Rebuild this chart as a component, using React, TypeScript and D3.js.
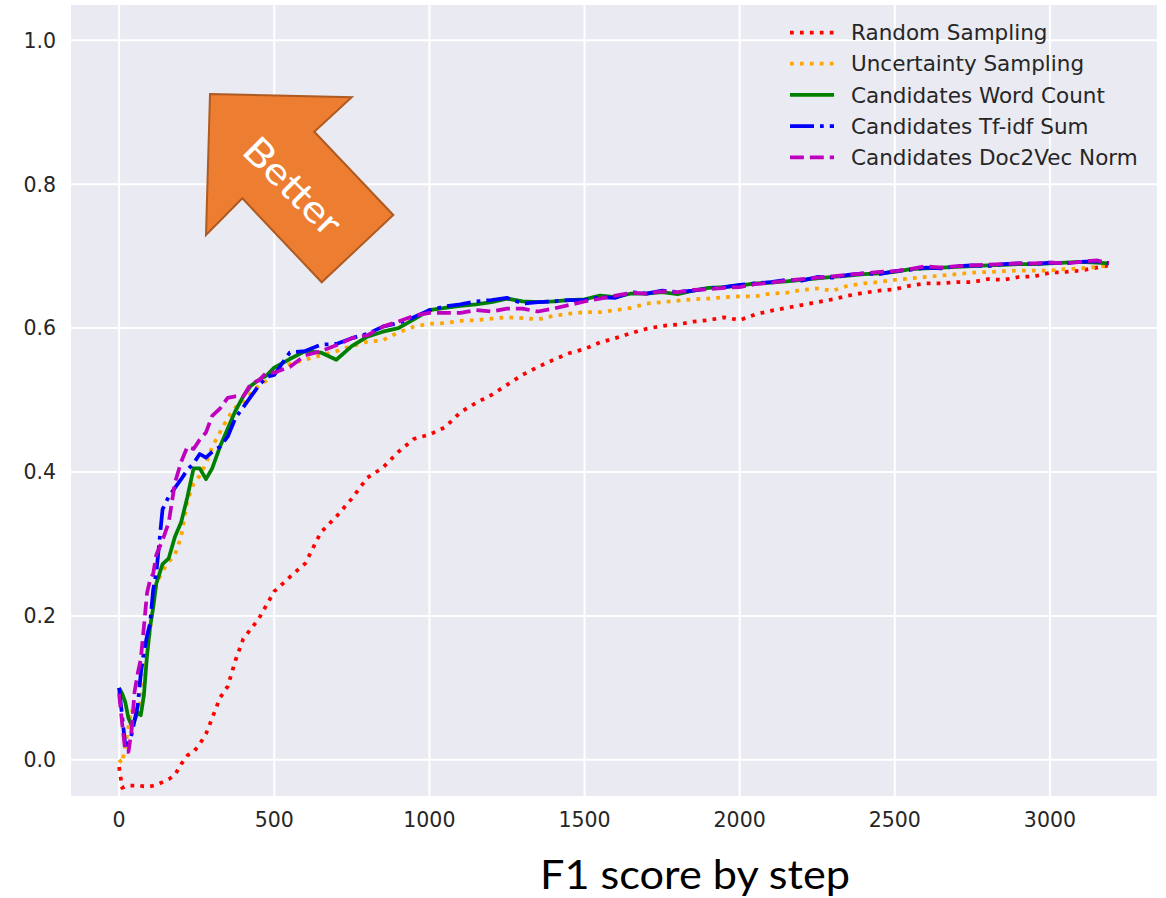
import React from "react";
import * as d3 from "d3";

// Training steps shared by every curve
const steps = [
  0, 10, 20, 30, 40, 50, 60, 70, 80, 90, 100, 110, 120,
  140, 160, 180, 200, 220, 240, 260, 280, 300,
  325, 350, 375, 400, 425, 450, 475, 500,
  550, 600, 650, 700, 750, 800, 850, 900, 950, 1000,
  1050, 1100, 1150, 1200, 1250, 1300, 1350, 1400, 1450, 1500,
  1550, 1600, 1650, 1700, 1750, 1800, 1850, 1900, 1950, 2000,
  2050, 2100, 2150, 2200, 2250, 2300, 2350, 2400, 2450, 2500,
  2550, 2600, 2650, 2700, 2750, 2800, 2850, 2900, 2950, 3000,
  3050, 3100, 3150, 3190,
];

const randomSampling = [
  -0.01, -0.039, -0.037, -0.036, -0.036, -0.036, -0.035, -0.036, -0.037, -0.037, -0.037, -0.036, -0.035,
  -0.031, -0.027, -0.021, -0.006, 0.006, 0.011, 0.022, 0.036, 0.058,
  0.086, 0.102, 0.138, 0.168, 0.182, 0.196, 0.215, 0.234,
  0.254, 0.273, 0.316, 0.338, 0.363, 0.392, 0.406, 0.428, 0.446, 0.452,
  0.462, 0.483, 0.496, 0.507, 0.521, 0.535, 0.546, 0.556, 0.565, 0.571,
  0.58, 0.586, 0.593, 0.599, 0.603, 0.605, 0.609, 0.611, 0.615, 0.611,
  0.619, 0.624, 0.628, 0.632, 0.636, 0.64, 0.645, 0.649, 0.652, 0.654,
  0.659, 0.662, 0.662, 0.664, 0.664, 0.668, 0.667, 0.671, 0.672, 0.677,
  0.678, 0.68, 0.684, 0.687,
];

const uncertaintySampling = [
  0.0, -0.005, 0.02, 0.045, 0.07, 0.06, 0.075, 0.08, 0.11, 0.15, 0.18, 0.22, 0.245,
  0.262, 0.275, 0.285, 0.31, 0.36, 0.384, 0.395, 0.412, 0.435,
  0.455, 0.475, 0.49, 0.495, 0.51, 0.52, 0.527, 0.537,
  0.55, 0.556, 0.562, 0.568, 0.575, 0.581, 0.583, 0.594, 0.602, 0.606,
  0.607, 0.61, 0.611, 0.613, 0.615, 0.614, 0.612, 0.617, 0.62, 0.622,
  0.622, 0.625, 0.628, 0.634, 0.636, 0.638, 0.64, 0.641, 0.643, 0.644,
  0.644, 0.648, 0.649, 0.653, 0.655, 0.652, 0.659, 0.662, 0.664, 0.667,
  0.669, 0.671, 0.673, 0.675, 0.677, 0.678, 0.679, 0.68, 0.68, 0.68,
  0.682, 0.683, 0.685, 0.687,
];

const wordCount = [
  0.1, 0.092, 0.08, 0.058, 0.048, 0.055, 0.066, 0.062, 0.09, 0.145, 0.185, 0.212, 0.245,
  0.272, 0.28, 0.31, 0.33, 0.365, 0.405, 0.405, 0.39, 0.405,
  0.435, 0.46, 0.485, 0.505, 0.52, 0.528, 0.534, 0.545,
  0.557, 0.568, 0.566, 0.556, 0.575, 0.588, 0.595, 0.6, 0.612, 0.625,
  0.628, 0.631, 0.633, 0.636, 0.641, 0.637, 0.636, 0.637, 0.639, 0.64,
  0.645, 0.643, 0.648, 0.648, 0.65, 0.647, 0.652, 0.656, 0.657, 0.659,
  0.662, 0.663, 0.665, 0.667, 0.669, 0.671, 0.673, 0.675, 0.676, 0.678,
  0.682, 0.683, 0.684, 0.685, 0.686, 0.687, 0.688, 0.689, 0.689, 0.69,
  0.691, 0.692, 0.691, 0.69,
];

const tfidfSum = [
  0.1, 0.06, 0.02, 0.022, 0.035, 0.055, 0.075, 0.12, 0.15, 0.172, 0.19, 0.237, 0.26,
  0.348, 0.366, 0.378, 0.39, 0.403, 0.412, 0.425, 0.42, 0.428,
  0.435, 0.449, 0.475, 0.49, 0.505, 0.52, 0.532, 0.535,
  0.566, 0.568, 0.577, 0.578, 0.586, 0.592, 0.602, 0.607, 0.615, 0.625,
  0.63, 0.633, 0.637, 0.639, 0.642, 0.634, 0.636, 0.637, 0.639, 0.639,
  0.643, 0.642, 0.65, 0.648, 0.652, 0.65, 0.652, 0.655, 0.657, 0.66,
  0.662, 0.664, 0.667, 0.666, 0.671, 0.67, 0.674, 0.676, 0.675, 0.679,
  0.681, 0.684, 0.683, 0.686, 0.687, 0.686, 0.689, 0.69, 0.689, 0.691,
  0.69, 0.692, 0.693, 0.69,
];

const doc2vecNorm = [
  0.092, 0.05, 0.012, 0.011, 0.04, 0.095, 0.12, 0.14, 0.185, 0.232, 0.25, 0.259, 0.285,
  0.305, 0.33, 0.385, 0.414, 0.435, 0.432, 0.445, 0.455, 0.478,
  0.488, 0.503, 0.505, 0.505, 0.523, 0.527, 0.538, 0.538,
  0.546, 0.562, 0.568, 0.576, 0.586, 0.59, 0.602, 0.609, 0.617, 0.621,
  0.621, 0.621, 0.625, 0.623, 0.627, 0.627, 0.623, 0.627, 0.632, 0.637,
  0.641, 0.645, 0.649, 0.648, 0.651, 0.65, 0.653, 0.654, 0.656, 0.657,
  0.661, 0.663, 0.666, 0.668, 0.67, 0.672, 0.674, 0.676, 0.678, 0.679,
  0.682, 0.686, 0.684, 0.686, 0.687, 0.688, 0.689, 0.69, 0.69, 0.691,
  0.69, 0.692, 0.694, 0.69,
];

const seriesNames = [
  "Random Sampling",
  "Uncertainty Sampling",
  "Candidates Word Count",
  "Candidates Tf-idf Sum",
  "Candidates Doc2Vec Norm",
];
const seriesValues = [randomSampling, uncertaintySampling, wordCount, tfidfSum, doc2vecNorm];
const seriesColors = ["#ff0000", "#ffa500", "#008000", "#0000ff", "#bf00bf"];

const LW = 3.75;
// matplotlib-style dash patterns scaled by line width
const seriesDash = [
  `${LW} ${LW * 1.65}`,
  `${LW} ${LW * 1.65}`,
  "none",
  `${LW * 6.4} ${LW * 1.6} ${LW} ${LW * 1.6}`,
  `${LW * 3.7} ${LW * 1.6}`,
];

const xTicks = [0, 500, 1000, 1500, 2000, 2500, 3000];
const yTicks = [0.0, 0.2, 0.4, 0.6, 0.8, 1.0];

const W = 1166;
const H = 898;
const plot = { left: 71, right: 1157, top: 5, bottom: 796 };

export default function App() {
  const x = d3.scaleLinear().domain([-155, 3345]).range([plot.left, plot.right]);
  const y = d3.scaleLinear().domain([-0.0503, 1.049]).range([plot.bottom, plot.top]);

  const line = (vals: number[]) =>
    d3
      .line<number>()
      .x((_, i) => x(steps[i]))
      .y((v) => y(v))(vals) as string;

  const tickFont = "'DejaVu Sans', sans-serif";
  const tickColor = "#262626";

  const arrowPts: [number, number][] = [
    [210, 94],
    [351.7, 97.3],
    [314.3, 131.7],
    [393.3, 215],
    [321.7, 282.3],
    [242.3, 198.3],
    [206, 235],
  ];

  return (
    <svg
      width={W}
      height={H}
      style={{ position: "absolute", left: 0, top: 0, background: "#ffffff" }}
    >
      <rect
        x={plot.left}
        y={plot.top}
        width={plot.right - plot.left}
        height={plot.bottom - plot.top}
        fill="#eaeaf2"
      />
      {/* grid */}
      {xTicks.map((t) => (
        <line
          key={`gx${t}`}
          x1={x(t)}
          x2={x(t)}
          y1={plot.top}
          y2={plot.bottom}
          stroke="#ffffff"
          strokeWidth={2}
        />
      ))}
      {yTicks.map((t) => (
        <line
          key={`gy${t}`}
          x1={plot.left}
          x2={plot.right}
          y1={y(t)}
          y2={y(t)}
          stroke="#ffffff"
          strokeWidth={2}
        />
      ))}
      {/* tick labels */}
      {xTicks.map((t) => (
        <text
          key={`tx${t}`}
          x={x(t)}
          y={827}
          textAnchor="middle"
          fontFamily={tickFont}
          fontSize={20.5}
          fill={tickColor}
        >
          {t}
        </text>
      ))}
      {yTicks.map((t) => (
        <text
          key={`ty${t}`}
          x={56}
          y={y(t)}
          dy="0.36em"
          textAnchor="end"
          fontFamily={tickFont}
          fontSize={20.5}
          fill={tickColor}
        >
          {t.toFixed(1)}
        </text>
      ))}

      {/* curves */}
      <g>
        {seriesValues.map((vals, i) => (
          <path
            key={seriesNames[i]}
            d={line(vals)}
            fill="none"
            stroke={seriesColors[i]}
            strokeWidth={LW}
            strokeDasharray={seriesDash[i]}
            strokeLinejoin="round"
          />
        ))}
      </g>

      {/* legend */}
      {seriesNames.map((name, i) => {
        const ly = 32.5 + i * 31.2;
        return (
          <g key={`lg${name}`}>
            <line
              x1={790}
              x2={834}
              y1={ly}
              y2={ly}
              stroke={seriesColors[i]}
              strokeWidth={LW}
              strokeDasharray={seriesDash[i]}
            />
            <text
              x={851}
              y={ly}
              dy="0.36em"
              fontFamily={tickFont}
              fontSize={21.5}
              fill={tickColor}
            >
              {name}
            </text>
          </g>
        );
      })}

      {/* "Better" arrow */}
      <polygon
        points={arrowPts.map((p) => p.join(",")).join(" ")}
        fill="#ed7d31"
        stroke="#ae5a21"
        strokeWidth={2}
        strokeLinejoin="miter"
      />
      <text
        transform="translate(294,185) rotate(45)"
        textAnchor="middle"
        dominantBaseline="central"
        fontFamily="Lato, 'Open Sans', sans-serif"
        fontSize={38}
        fill="#ffffff"
        textLength={122}
        lengthAdjust="spacingAndGlyphs"
      >
        Better
      </text>

      {/* caption */}
      <text
        x={695}
        y={889}
        textAnchor="middle"
        fontFamily="Lato, 'Open Sans', sans-serif"
        fontSize={41}
        fill="#000000"
        textLength={310}
        lengthAdjust="spacingAndGlyphs"
      >
        F1 score by step
      </text>
    </svg>
  );
}
